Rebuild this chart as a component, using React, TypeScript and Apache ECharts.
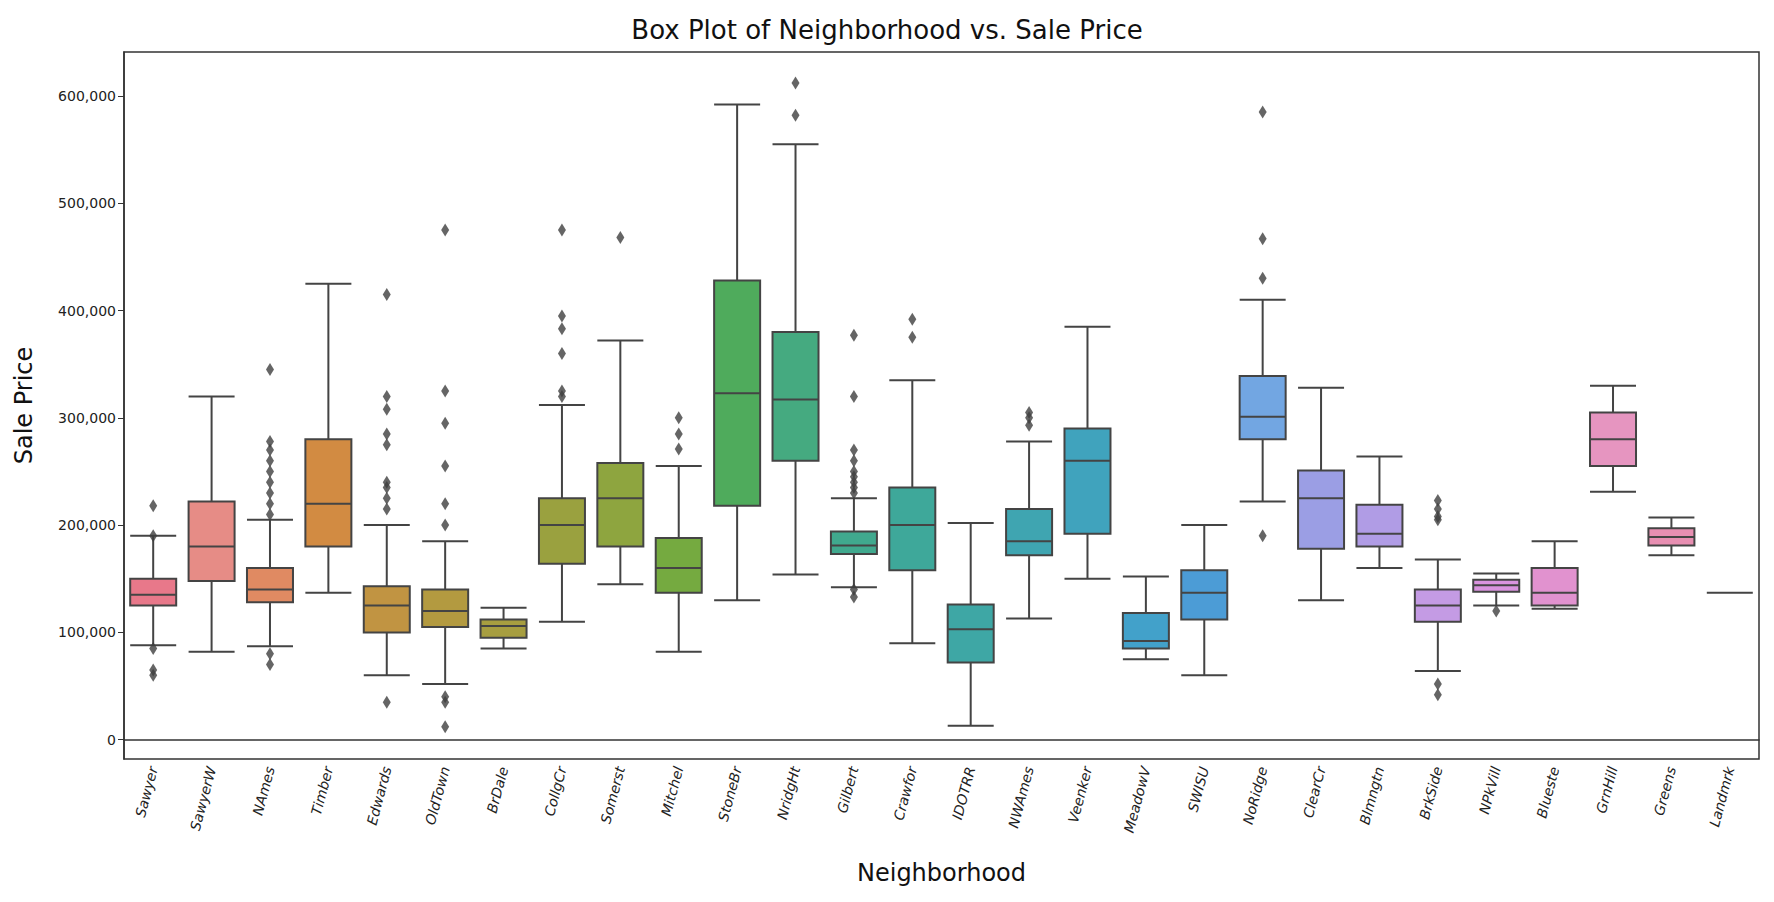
import React, { useEffect, useRef } from "react";
import * as echarts from "echarts";

const categories = ["Sawyer","SawyerW","NAmes","Timber","Edwards","OldTown","BrDale","CollgCr","Somerst","Mitchel","StoneBr","NridgHt","Gilbert","Crawfor","IDOTRR","NWAmes","Veenker","MeadowV","SWISU","NoRidge","ClearCr","Blmngtn","BrkSide","NPkVill","Blueste","GrnHill","Greens","Landmrk"];

// [min, Q1, median, Q3, max]
const boxes: number[][] = [
  [88000,125000,135000,150000,190000],
  [82000,148000,180000,222000,320000],
  [87000,128000,140000,160000,205000],
  [137000,180000,220000,280000,425000],
  [60000,100000,125000,143000,200000],
  [52000,105000,120000,140000,185000],
  [85000,95000,106000,112000,123000],
  [110000,164000,200000,225000,312000],
  [145000,180000,225000,258000,372000],
  [82000,137000,160000,188000,255000],
  [130000,218000,323000,428000,592000],
  [154000,260000,317000,380000,555000],
  [142000,173000,181000,194000,225000],
  [90000,158000,200000,235000,335000],
  [13000,72000,103000,126000,202000],
  [113000,172000,185000,215000,278000],
  [150000,192000,260000,290000,385000],
  [75000,85000,92000,118000,152000],
  [60000,112000,137000,158000,200000],
  [222000,280000,301000,339000,410000],
  [130000,178000,225000,251000,328000],
  [160000,180000,192000,219000,264000],
  [64000,110000,125000,140000,168000],
  [125000,138000,144000,149000,155000],
  [122000,125000,137000,160000,185000],
  [231000,255000,280000,305000,330000],
  [172000,181000,189000,197000,207000],
  [137000,137000,137000,137000,137000],
];

const outliers: number[][] = [
  [218000,190000,85000,65000,60000],
  [],
  [345000,278000,270000,260000,250000,240000,230000,220000,210000,80000,70000],
  [],
  [415000,320000,308000,285000,275000,240000,235000,225000,215000,35000],
  [475000,325000,295000,255000,220000,200000,40000,35000,12000],
  [],
  [475000,395000,383000,360000,325000,320000],
  [468000],
  [300000,285000,271000],
  [],
  [612000,582000],
  [377000,320000,270000,260000,250000,245000,240000,235000,230000,140000,133000],
  [392000,375000],
  [],
  [305000,300000,293000],
  [],
  [],
  [],
  [585000,467000,430000,190000],
  [],
  [],
  [223000,215000,208000,205000,52000,42000],
  [120000],
  [],
  [],
  [],
  [],
];

const colors = ["#e8788a","#e68c86","#e08a62","#d28b42","#c19442","#b39a40","#a79e40","#9aa13f","#8ea53f","#75aa40","#4fab5c","#45aa80","#40a98e","#3ea89a","#3ea7a5","#3fa5b1","#40a3bd","#42a1ca","#4c9cd6","#72a6e2","#9b9ee4","#b09ce5","#c49be4","#d993de","#e192cf","#e695c0","#e88fb2","#e984a2"];

const yTicks = [0,100000,200000,300000,400000,500000,600000];

export default function App() {
  const ref = useRef<HTMLDivElement>(null);
  useEffect(() => {
    const chart = echarts.init(ref.current!, null, { renderer: "svg" });
    const scatterData: number[][] = [];
    outliers.forEach((arr, i) => arr.forEach((v) => scatterData.push([i, v])));
    chart.setOption({
      animation: false,
      textStyle: { fontFamily: "DejaVu Sans" },
      title: { text: "Box Plot of Neighborhood vs. Sale Price", left: "center", top: 12, textStyle: { fontSize: 26, fontWeight: "normal", color: "#111", fontFamily: "DejaVu Sans" } },
      grid: { left: 124, right: 15, top: 52, bottom: 143, show: true, borderColor: "#333", borderWidth: 1.5 },
      xAxis: {
        type: "category", data: categories,
        name: "Neighborhood", nameLocation: "middle", nameGap: 102,
        nameTextStyle: { fontSize: 24, color: "#111" },
        axisLine: { lineStyle: { color: "#333", width: 1.5 } },
        axisTick: { alignWithLabel: true, length: 6, lineStyle: { color: "#333" } },
        axisLabel: { rotate: 75, fontStyle: "italic", fontSize: 14, color: "#222", interval: 0 },
      },
      yAxis: {
        type: "value", min: -18000, max: 641000,
        name: "Sale Price", nameLocation: "middle", nameGap: 88,
        nameTextStyle: { fontSize: 24, color: "#111" },
        splitLine: { show: false },
        axisLine: { show: true, lineStyle: { color: "#333", width: 1.5 } },
        axisTick: { show: true, length: 6, customValues: yTicks, lineStyle: { color: "#333" } },
        axisLabel: { customValues: yTicks, fontSize: 14, color: "#222" },
      },
      series: [
        {
          type: "boxplot",
          boxWidth: [46, 46],
          data: boxes.map((b, i) => ({ value: b, itemStyle: { color: colors[i], borderColor: "#444", borderWidth: 2 } })),
        },
        {
          type: "scatter",
          symbol: "diamond",
          symbolSize: [8, 13],
          itemStyle: { color: "#3f3f3f" },
          data: scatterData,
          z: 3,
        },
      ],
    });
    return () => chart.dispose();
  }, []);
  return <div ref={ref} style={{ position: "fixed", left: 0, top: 0, width: 1774, height: 902, background: "#fff" }} />;
}
